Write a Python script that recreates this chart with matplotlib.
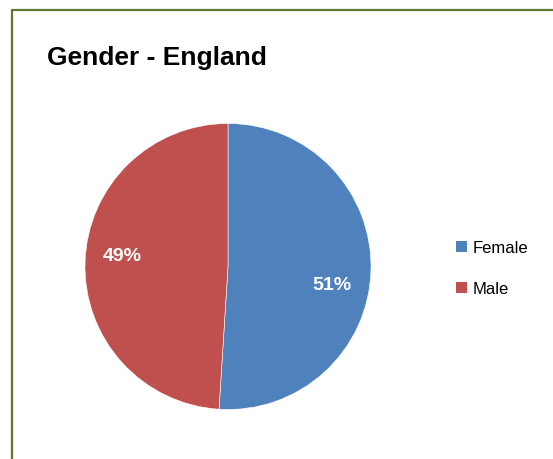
import numpy as np
import matplotlib
matplotlib.use("Agg")
import matplotlib.pyplot as plt
from matplotlib.patches import Rectangle, Patch

plt.rcParams['font.family'] = ['Liberation Sans', 'DejaVu Sans']

# chart data
labels = ['Female', 'Male']
shares = [51, 49]
colors = ['#4F81BD', '#C0504D']
title = 'Gender - England'

W, H = 553, 460
fig = plt.figure(figsize=(W / 100, H / 100), dpi=100)

# olive frame, only left and top edges visible
fig.patches.append(Rectangle((12 / W, -0.1), 1.2, (H - 11) / H + 0.1,
                             transform=fig.transFigure, fill=False,
                             edgecolor='#5E7A32', linewidth=1.6))

fig.text(47 / W, 1 - 65 / H, title, fontsize=19, fontweight='bold',
         ha='left', va='baseline')

# pie axes: centre (228, 267.5), radius 143 px
cx, cy, r = 228, 267.5, 143
ax = fig.add_axes([(cx - r) / W, (H - cy - r) / H, 2 * r / W, 2 * r / H])
wedges, texts, autotexts = ax.pie(
    shares, colors=colors, startangle=90, counterclock=False,
    autopct='%d%%', pctdistance=0.74,
    wedgeprops=dict(edgecolor='white', linewidth=0.4))

# excel nudges the labels a little clockwise of the wedge middle
for w, t, shift in zip(wedges, autotexts, [-8, -4]):
    mid = np.deg2rad((w.theta1 + w.theta2) / 2 + shift)
    t.set_position((0.74 * np.cos(mid), 0.74 * np.sin(mid)))
    t.set_color('white')
    t.set_fontsize(14)
    t.set_fontweight('bold')
ax.set_xlim(-1, 1)
ax.set_ylim(-1, 1)
ax.set_aspect('equal')
ax.axis('off')

handles = [Patch(facecolor=c, edgecolor='none') for c in colors]
fig.legend(handles, labels, loc='center left',
           bbox_to_anchor=(441 / W, 1 - 269 / H), frameon=False,
           fontsize=12, handlelength=0.65, handleheight=0.65,
           handletextpad=0.35, labelspacing=1.55)

fig.savefig('out.png', dpi=100)
